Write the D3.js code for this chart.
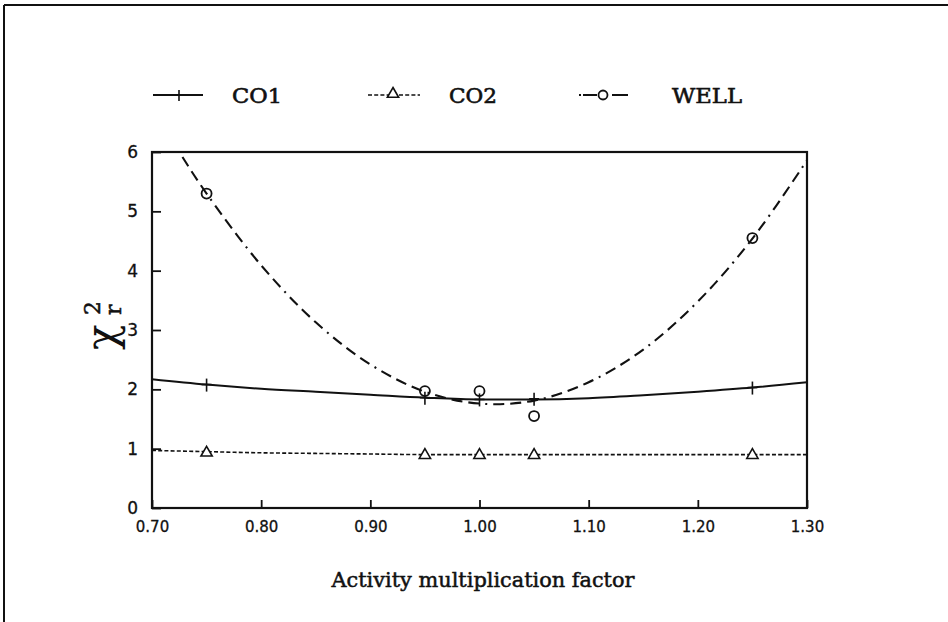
<!DOCTYPE html>
<html>
<head>
<meta charset="utf-8">
<script src="https://cdn.jsdelivr.net/npm/d3@7"></script>
<style>
  html, body { margin: 0; padding: 0; background: #fff; }
  svg { display: block; }
</style>
</head>
<body>
<svg id="chart" width="948" height="622"></svg>
<script>
// ---- data ----
const xTicks = [0.70, 0.80, 0.90, 1.00, 1.10, 1.20, 1.30];
const yTicks = [0, 1, 2, 3, 4, 5, 6];
const markerX = [0.75, 0.95, 1.00, 1.05, 1.25];

// fitted curves (sampled by eye)
const curveX = [0.70, 0.75, 0.80, 0.85, 0.90, 0.95, 1.00, 1.05, 1.10, 1.15, 1.20, 1.25, 1.30];
const co1Curve = [2.17, 2.08, 2.01, 1.96, 1.91, 1.86, 1.83, 1.83, 1.85, 1.90, 1.96, 2.03, 2.12];
const co2Curve = [0.97, 0.95, 0.93, 0.92, 0.91, 0.90, 0.90, 0.90, 0.90, 0.90, 0.90, 0.90, 0.90];
const wellCurveX = [0.70, 0.725, 0.75, 0.80, 0.85, 0.90, 0.95, 1.00, 1.05, 1.10, 1.15, 1.20, 1.25, 1.30];
const wellCurve = [6.77, 6.00, 5.30, 4.09, 3.13, 2.42, 1.96, 1.76, 1.81, 2.12, 2.67, 3.48, 4.54, 5.86];

// measured points
const co1Points = [2.08, 1.86, 1.83, 1.84, 2.03];
const co2Points = [0.93, 0.89, 0.89, 0.89, 0.89];
const wellPoints = [5.30, 1.97, 1.97, 1.55, 4.55];

const legendLabels = ["CO1", "CO2", "WELL"];
const xTitle = "Activity multiplication factor";

// ---- layout ----
const svg = d3.select("#chart");
const x = d3.scaleLinear().domain([0.70, 1.30]).range([152, 807]);
const y = d3.scaleLinear().domain([0, 6]).range([508, 152]);
const ink = "#111";

// page border (top and left edges of the scanned frame)
svg.append("line").attr("x1", 4).attr("x2", 948).attr("y1", 5).attr("y2", 5)
  .attr("stroke", ink).attr("stroke-width", 2.2);
svg.append("line").attr("x1", 4).attr("x2", 4).attr("y1", 5).attr("y2", 622)
  .attr("stroke", ink).attr("stroke-width", 2);

// clip
svg.append("clipPath").attr("id", "plotclip").append("rect")
  .attr("x", x(0.70)).attr("y", y(6)).attr("width", x(1.30) - x(0.70)).attr("height", y(0) - y(6));

// axes
const tickFont = "'DejaVu Sans', sans-serif";
const xAxis = d3.axisBottom(x).tickValues(xTicks).tickFormat(d3.format(".2f"))
  .tickSizeInner(-8).tickSizeOuter(0).tickPadding(13);
const gx = svg.append("g").attr("transform", `translate(0,${y(0)})`).call(xAxis);
const yAxis = d3.axisLeft(y).tickValues(yTicks).tickFormat(d3.format("d"))
  .tickSizeInner(-9).tickSizeOuter(0).tickPadding(14);
const gy = svg.append("g").attr("transform", `translate(${x(0.70)},0)`).call(yAxis);
[gx, gy].forEach(g => {
  g.select(".domain").remove();
  g.selectAll(".tick line").attr("stroke", ink).attr("stroke-width", 1.8);
  g.selectAll(".tick text").attr("fill", ink)
    .attr("stroke", ink).attr("stroke-width", 0.3)
    .style("font-family", tickFont).style("font-size", "15px");
});
gy.selectAll(".tick text").style("font-size", "17px");

// plot frame
svg.append("rect")
  .attr("x", x(0.70)).attr("y", y(6)).attr("width", x(1.30) - x(0.70)).attr("height", y(0) - y(6))
  .attr("fill", "none").attr("stroke", ink).attr("stroke-width", 2.2);

const line = d3.line().curve(d3.curveMonotoneX);
const plot = svg.append("g").attr("clip-path", "url(#plotclip)");

// CO1 (solid)
plot.append("path")
  .attr("d", line(curveX.map((d, i) => [x(d), y(co1Curve[i])])))
  .attr("fill", "none").attr("stroke", ink).attr("stroke-width", 2);
// CO2 (short dashes)
plot.append("path")
  .attr("d", line(curveX.map((d, i) => [x(d), y(co2Curve[i])])))
  .attr("fill", "none").attr("stroke", ink).attr("stroke-width", 1.6).attr("stroke-dasharray", "4,2.2");
// WELL (long dash - dot)
plot.append("path")
  .attr("d", d3.line().curve(d3.curveCatmullRom)(wellCurveX.map((d, i) => [x(d), y(wellCurve[i])])))
  .attr("fill", "none").attr("stroke", ink).attr("stroke-width", 2.1)
  .attr("stroke-dasharray", "11,6,11,6,11,6,2,6");

// markers
const tri = d3.symbol().type(d3.symbolTriangle).size(55);
markerX.forEach((mx, i) => {
  // CO1 cross
  svg.append("line").attr("x1", x(mx)).attr("x2", x(mx))
    .attr("y1", y(co1Points[i]) - 6).attr("y2", y(co1Points[i]) + 7)
    .attr("stroke", ink).attr("stroke-width", 1.6);
  svg.append("line").attr("x1", x(mx) - 5).attr("x2", x(mx) + 5)
    .attr("y1", y(co1Points[i])).attr("y2", y(co1Points[i]))
    .attr("stroke", ink).attr("stroke-width", 1.6);
  // CO2 triangle
  svg.append("path").attr("d", tri)
    .attr("transform", `translate(${x(mx)},${y(co2Points[i])})`)
    .attr("fill", "#fff").attr("stroke", ink).attr("stroke-width", 1.6);
  // WELL circle
  svg.append("circle").attr("cx", x(mx)).attr("cy", y(wellPoints[i])).attr("r", 5)
    .attr("fill", "none").attr("stroke", ink).attr("stroke-width", 1.8);
});

// legend
const serif = "'DejaVu Serif', 'Liberation Serif', serif";
const legY = 95;
const legItems = [
  { x0: 153, x1: 203, mx: 179, tx: 232, w: 50, style: "solid" },
  { x0: 368, x1: 420, mx: 393, tx: 449, w: 48, style: "co2" },
  { x0: 579, x1: 628, mx: 603, tx: 672, w: 70, style: "well" }
];
legItems.forEach((it, i) => {
  const l = svg.append("line").attr("x1", it.x0).attr("x2", it.x1).attr("y1", legY).attr("y2", legY)
    .attr("stroke", ink).attr("stroke-width", it.style === "co2" ? 1.6 : 2);
  if (it.style === "co2") l.attr("stroke-dasharray", "4,2.2");
  if (it.style === "well") l.attr("stroke-dasharray", "2,2,14,15,16");
  if (i === 0) {
    svg.append("line").attr("x1", it.mx).attr("x2", it.mx).attr("y1", legY - 5).attr("y2", legY + 6)
      .attr("stroke", ink).attr("stroke-width", 1.6);
  } else if (i === 1) {
    svg.append("path").attr("d", tri).attr("transform", `translate(${it.mx},${legY - 1})`)
      .attr("fill", "#fff").attr("stroke", ink).attr("stroke-width", 1.6);
  } else {
    svg.append("circle").attr("cx", it.mx).attr("cy", legY).attr("r", 4.5)
      .attr("fill", "#fff").attr("stroke", ink).attr("stroke-width", 1.8);
  }
  svg.append("text").attr("x", it.tx).attr("y", legY + 8)
    .attr("textLength", it.w).attr("lengthAdjust", "spacingAndGlyphs")
    .attr("stroke", ink).attr("stroke-width", 0.6)
    .style("font-family", serif).style("font-size", "21px").attr("fill", ink)
    .text(legendLabels[i]);
});

// x title
svg.append("text").attr("x", 483).attr("y", 587).attr("text-anchor", "middle")
  .attr("textLength", 303).attr("lengthAdjust", "spacingAndGlyphs")
  .attr("stroke", ink).attr("stroke-width", 0.5)
  .style("font-family", serif).style("font-size", "20px").attr("fill", ink)
  .text(xTitle);

// y title: chi^2_r rotated
const yt = svg.append("g").attr("transform", "translate(116,350) rotate(-90)");
yt.append("text").attr("x", 0).attr("y", 0)
  .style("font-family", serif).style("font-size", "42px").attr("fill", ink).text("χ");
yt.append("text").attr("x", 35).attr("y", -16)
  .attr("stroke", ink).attr("stroke-width", 0.5)
  .style("font-family", serif).style("font-size", "22px").attr("fill", ink).text("2");
yt.append("text").attr("x", 35).attr("y", 5)
  .attr("stroke", ink).attr("stroke-width", 0.5)
  .style("font-family", serif).style("font-size", "22px").attr("fill", ink).text("r");
</script>
</body>
</html>
